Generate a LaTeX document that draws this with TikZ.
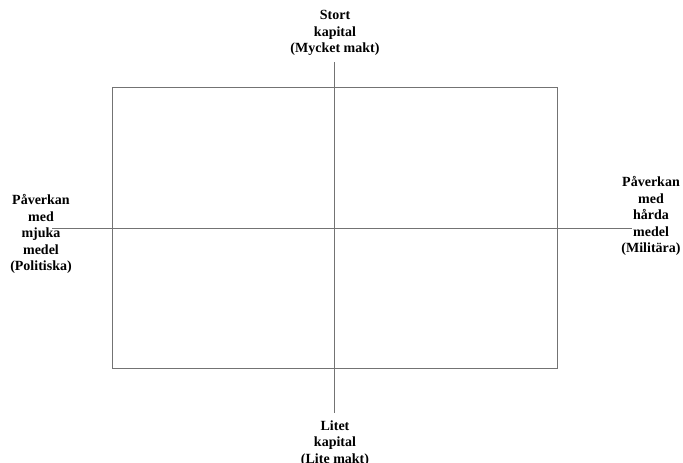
\documentclass[tikz,border=0pt]{standalone}
\usepackage{fontspec}
\setmainfont{Liberation Serif}
\begin{document}
\begin{tikzpicture}[x=1pt,y=-1pt,
  axisline/.style={draw=black!55,line width=1pt},
  frame/.style={draw=black!55,line width=1pt},
  lbl/.style={align=center,inner sep=0pt,font=\fontsize{14}{16.5}\selectfont\bfseries}]
\useasboundingbox (0,0) rectangle (683,463);
\draw[frame] (112,87.5) rectangle (557.5,368);
\coordinate (vt) at (334.5,62);
\coordinate (vb) at (334.5,413);
\coordinate (hl) at (52,228.5);
\coordinate (hr) at (632,228.5);
\draw[axisline] (vt) -- (vb);
\draw[axisline] (hl) -- (hr);
\node[lbl] (top) at (335,33) {Stort\\kapital\\(Mycket makt)};
\node[lbl] (left) at (41,234) {Påverkan\\med\\mjuka\\medel\\(Politiska)};
\node[lbl] (right) at (651,216) {Påverkan\\med\\hårda\\medel\\(Militära)};
\node[lbl] (bottom) at (335,443.5) {Litet\\kapital\\(Lite makt)};
\end{tikzpicture}
\end{document}
